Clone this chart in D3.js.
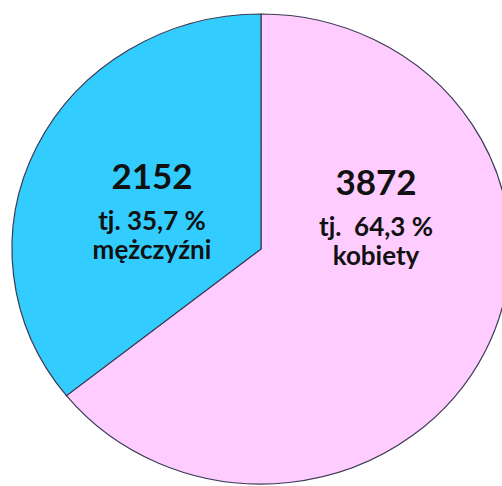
<!DOCTYPE html>
<html>
<head>
<meta charset="utf-8">
<script src="https://cdn.jsdelivr.net/npm/d3@7"></script>
<style>
  body { margin: 0; background: #fff; }
  svg { display: block; }
  text { font-family: Lato, "Open Sans", sans-serif; font-weight: 700; fill: #111; white-space: pre; }
</style>
</head>
<body>
<div id="chart"></div>
<script>
// data
var categories = ["kobiety", "mężczyźni"];
var values = [3872, 2152];
var percentText = ["tj.  64,3 %", "tj. 35,7 %"];
var labelNames = ["kobiety", "mężczyźni"];
var colors = ["#ffccff", "#33ccff"];

var width = 502, height = 486;
var cx = 261, cy = 249;
var ry = 235, rx = 249;

var svg = d3.select("#chart").append("svg")
    .attr("width", width)
    .attr("height", height);

var pie = d3.pie().sort(null).value(function(d) { return d; });
var arc = d3.arc().innerRadius(0).outerRadius(ry);

var slices = pie(values);

var g = svg.append("g")
    .attr("transform", "translate(" + cx + "," + cy + ") scale(" + (rx / ry) + ",1)");

g.selectAll("path")
    .data(slices)
    .enter().append("path")
    .attr("d", arc)
    .attr("fill", function(d, i) { return colors[i]; })
    .attr("stroke", "#3a3a55")
    .attr("stroke-width", 1.2)
    .attr("vector-effect", "non-scaling-stroke");

// label placement (layout only), offset from pie center
var labelOffsets = [[115, -54], [-109, -60]];

var labels = svg.selectAll("g.lbl")
    .data(slices)
    .enter().append("g")
    .attr("class", "lbl")
    .attr("transform", function(d, i) {
      return "translate(" + (cx + labelOffsets[i][0]) + "," + (cy + labelOffsets[i][1]) + ")";
    })
    .attr("text-anchor", "middle");

labels.append("text")
    .attr("y", 0)
    .style("font-size", "35px")
    .text(function(d) { return d.value; });

labels.append("text")
    .attr("y", 41)
    .style("font-size", "26px")
    .text(function(d, i) { return percentText[i]; });

labels.append("text")
    .attr("y", 70)
    .style("font-size", "26px")
    .text(function(d, i) { return labelNames[i]; });
</script>
</body>
</html>
